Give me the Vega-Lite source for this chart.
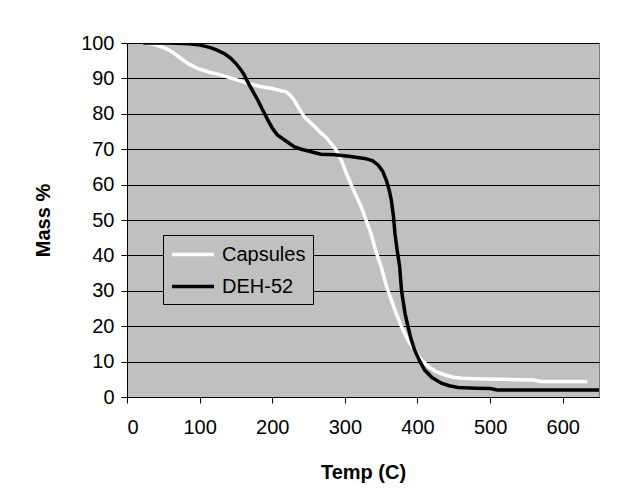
{
  "$schema": "https://vega.github.io/schema/vega-lite/v6.json",
  "autosize": "none",
  "width": 472,
  "height": 354,
  "padding": {"left": 127, "top": 43, "right": 27, "bottom": 103},
  "background": "white",
  "config": {
    "view": {"fill": "#C0C0C0", "stroke": "#808080", "strokeWidth": 1},
    "font": "Liberation Sans",
    "axis": {
      "labelFont": "Liberation Sans",
      "labelFontSize": 20,
      "labelColor": "black",
      "titleFont": "Liberation Sans",
      "titleFontSize": 20,
      "titleFontWeight": "bold",
      "titleColor": "black",
      "domainColor": "black",
      "tickColor": "black",
      "tickSize": 6,
      "gridColor": "black",
      "gridOpacity": 1,
      "gridWidth": 1
    }
  },
  "data": {
    "values": [
      {"series": "Capsules", "temp": 22, "mass": 100},
      {"series": "Capsules", "temp": 35, "mass": 99.7},
      {"series": "Capsules", "temp": 50, "mass": 98.8},
      {"series": "Capsules", "temp": 62, "mass": 97.5},
      {"series": "Capsules", "temp": 74, "mass": 95.7},
      {"series": "Capsules", "temp": 85, "mass": 94.1},
      {"series": "Capsules", "temp": 97, "mass": 92.8},
      {"series": "Capsules", "temp": 112, "mass": 91.8},
      {"series": "Capsules", "temp": 129, "mass": 91},
      {"series": "Capsules", "temp": 148, "mass": 89.8},
      {"series": "Capsules", "temp": 166, "mass": 88.6},
      {"series": "Capsules", "temp": 182, "mass": 87.8},
      {"series": "Capsules", "temp": 198, "mass": 87.2},
      {"series": "Capsules", "temp": 212, "mass": 86.5},
      {"series": "Capsules", "temp": 219, "mass": 86.2},
      {"series": "Capsules", "temp": 225, "mass": 85.2},
      {"series": "Capsules", "temp": 230, "mass": 83.9},
      {"series": "Capsules", "temp": 237, "mass": 81.5},
      {"series": "Capsules", "temp": 244, "mass": 79.2},
      {"series": "Capsules", "temp": 249, "mass": 78.2},
      {"series": "Capsules", "temp": 258, "mass": 76.5},
      {"series": "Capsules", "temp": 267, "mass": 74.6},
      {"series": "Capsules", "temp": 275, "mass": 73.2},
      {"series": "Capsules", "temp": 288, "mass": 69.8},
      {"series": "Capsules", "temp": 296, "mass": 66.5},
      {"series": "Capsules", "temp": 304, "mass": 62.2},
      {"series": "Capsules", "temp": 313, "mass": 58},
      {"series": "Capsules", "temp": 322.5, "mass": 53.8},
      {"series": "Capsules", "temp": 330, "mass": 49.5},
      {"series": "Capsules", "temp": 336, "mass": 46.2},
      {"series": "Capsules", "temp": 343, "mass": 41},
      {"series": "Capsules", "temp": 350, "mass": 36.8},
      {"series": "Capsules", "temp": 357, "mass": 31.5},
      {"series": "Capsules", "temp": 364, "mass": 27.4},
      {"series": "Capsules", "temp": 370, "mass": 24},
      {"series": "Capsules", "temp": 378, "mass": 19.9},
      {"series": "Capsules", "temp": 387, "mass": 16},
      {"series": "Capsules", "temp": 396, "mass": 13.3},
      {"series": "Capsules", "temp": 405, "mass": 10.5},
      {"series": "Capsules", "temp": 415, "mass": 8.6},
      {"series": "Capsules", "temp": 425, "mass": 7.2},
      {"series": "Capsules", "temp": 438, "mass": 6.2},
      {"series": "Capsules", "temp": 450, "mass": 5.6},
      {"series": "Capsules", "temp": 461, "mass": 5.3},
      {"series": "Capsules", "temp": 490, "mass": 5.1},
      {"series": "Capsules", "temp": 520, "mass": 5.0},
      {"series": "Capsules", "temp": 560, "mass": 4.8},
      {"series": "Capsules", "temp": 570, "mass": 4.4},
      {"series": "Capsules", "temp": 600, "mass": 4.4},
      {"series": "Capsules", "temp": 634, "mass": 4.4},
      {"series": "DEH-52", "temp": 22, "mass": 100},
      {"series": "DEH-52", "temp": 60, "mass": 100},
      {"series": "DEH-52", "temp": 85, "mass": 99.8},
      {"series": "DEH-52", "temp": 101, "mass": 99.4},
      {"series": "DEH-52", "temp": 115, "mass": 98.7},
      {"series": "DEH-52", "temp": 124, "mass": 98},
      {"series": "DEH-52", "temp": 135, "mass": 96.9},
      {"series": "DEH-52", "temp": 143, "mass": 95.7},
      {"series": "DEH-52", "temp": 150, "mass": 94.2},
      {"series": "DEH-52", "temp": 157, "mass": 92.4},
      {"series": "DEH-52", "temp": 162, "mass": 90.8},
      {"series": "DEH-52", "temp": 166, "mass": 89.1},
      {"series": "DEH-52", "temp": 173, "mass": 86.5},
      {"series": "DEH-52", "temp": 180, "mass": 83.9},
      {"series": "DEH-52", "temp": 187, "mass": 81},
      {"series": "DEH-52", "temp": 194, "mass": 78.2},
      {"series": "DEH-52", "temp": 200, "mass": 76},
      {"series": "DEH-52", "temp": 207, "mass": 74},
      {"series": "DEH-52", "temp": 217, "mass": 72.6},
      {"series": "DEH-52", "temp": 230, "mass": 70.7},
      {"series": "DEH-52", "temp": 240, "mass": 70},
      {"series": "DEH-52", "temp": 255, "mass": 69.2},
      {"series": "DEH-52", "temp": 267, "mass": 68.6},
      {"series": "DEH-52", "temp": 286, "mass": 68.4},
      {"series": "DEH-52", "temp": 305, "mass": 68},
      {"series": "DEH-52", "temp": 327, "mass": 67.4},
      {"series": "DEH-52", "temp": 338, "mass": 66.8},
      {"series": "DEH-52", "temp": 346, "mass": 65.5},
      {"series": "DEH-52", "temp": 352, "mass": 63.8},
      {"series": "DEH-52", "temp": 357, "mass": 61.3},
      {"series": "DEH-52", "temp": 361, "mass": 58.5},
      {"series": "DEH-52", "temp": 364, "mass": 55.6},
      {"series": "DEH-52", "temp": 367, "mass": 51},
      {"series": "DEH-52", "temp": 369, "mass": 46.2},
      {"series": "DEH-52", "temp": 372, "mass": 41.5},
      {"series": "DEH-52", "temp": 375.5, "mass": 36.8},
      {"series": "DEH-52", "temp": 378, "mass": 30.2},
      {"series": "DEH-52", "temp": 380, "mass": 27.4},
      {"series": "DEH-52", "temp": 383, "mass": 23.5},
      {"series": "DEH-52", "temp": 387, "mass": 19.9},
      {"series": "DEH-52", "temp": 391, "mass": 16.5},
      {"series": "DEH-52", "temp": 396, "mass": 13.3},
      {"series": "DEH-52", "temp": 403, "mass": 10.2},
      {"series": "DEH-52", "temp": 410, "mass": 7.6},
      {"series": "DEH-52", "temp": 420, "mass": 5.5},
      {"series": "DEH-52", "temp": 433, "mass": 3.9},
      {"series": "DEH-52", "temp": 445, "mass": 3.1},
      {"series": "DEH-52", "temp": 456, "mass": 2.7},
      {"series": "DEH-52", "temp": 480, "mass": 2.5},
      {"series": "DEH-52", "temp": 500, "mass": 2.4},
      {"series": "DEH-52", "temp": 510, "mass": 2.0},
      {"series": "DEH-52", "temp": 560, "mass": 2.0},
      {"series": "DEH-52", "temp": 600, "mass": 2.0},
      {"series": "DEH-52", "temp": 650, "mass": 2.0}
    ]
  },
  "mark": {"type": "line", "strokeWidth": 3.5, "clip": true},
  "encoding": {
    "x": {
      "field": "temp",
      "type": "quantitative",
      "scale": {"domain": [0, 650], "nice": false, "zero": false},
      "axis": {
        "title": "Temp (C)",
        "values": [0, 100, 200, 300, 400, 500, 600],
        "grid": false,
        "labelPadding": 14,
        "titleY": 75,
        "titleBaseline": "middle"
      }
    },
    "y": {
      "field": "mass",
      "type": "quantitative",
      "scale": {"domain": [0, 100], "nice": false},
      "axis": {
        "title": "Mass %",
        "values": [0, 10, 20, 30, 40, 50, 60, 70, 80, 90, 100],
        "grid": true,
        "labelPadding": 7,
        "titleAngle": -90,
        "titleX": -84,
        "titleY": 177,
        "titleBaseline": "middle",
        "titleAlign": "center"
      }
    },
    "color": {
      "field": "series",
      "type": "nominal",
      "scale": {"domain": ["Capsules", "DEH-52"], "range": ["white", "black"]},
      "legend": {
        "title": null,
        "orient": "none",
        "legendX": 36,
        "legendY": 192,
        "fillColor": "#C0C0C0",
        "strokeColor": "black",
        "padding": 7,
        "symbolType": "M-1,0H3",
        "symbolSize": 441,
        "symbolStrokeWidth": 3.5,
        "labelFont": "Liberation Sans",
        "labelFontSize": 20,
        "labelColor": "black",
        "labelOffset": 27,
        "rowPadding": 9
      }
    }
  }
}
